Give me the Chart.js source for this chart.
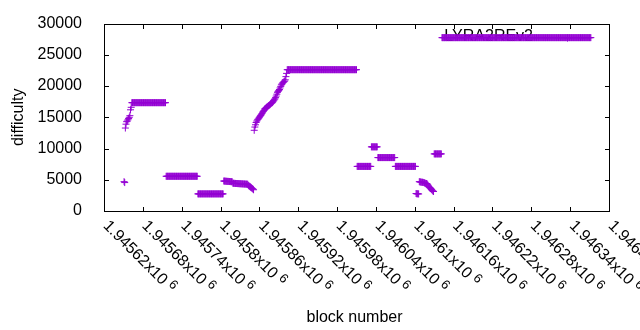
<!DOCTYPE html>
<html>
<head>
<meta charset="utf-8">
<script src="https://cdn.jsdelivr.net/npm/chart.js@4/dist/chart.umd.min.js"></script>
<style>
html,body{margin:0;padding:0;background:#fff;}
#wrap{width:640px;height:330px;position:relative;}
</style>
</head>
<body>
<div id="wrap"><canvas id="c" width="640" height="330"></canvas></div>
<script>
// ---------- text ----------
const seriesName = 'LYRA2REv2';
const xTitle = 'block number';
const yTitle = 'difficulty';

// ---------- axes ----------
const xMin = 1945620, xMax = 1946400, xStep = 60;
const yMin = 0, yMax = 30000, yStep = 5000;
const xTickMantissas = ['1.94562','1.94568','1.94574','1.9458','1.94586','1.94592','1.94598',
                        '1.94604','1.9461','1.94616','1.94622','1.94628','1.94634','1.9464'];
const xTickExponent = '6';
const yTickLabels = ['0','5000','10000','15000','20000','25000','30000'];

// ---------- data (one value per block, each run starts at its block number) ----------
const segmentStartBlocks = [1945651, 1945663, 1945716, 1945765, 1945805, 1945852, 1945903,
                            1946011, 1946033, 1946043, 1946070, 1946102, 1946107, 1946130, 1946142];

const earlyRise = [4700, 4550, 13280, 13900, 14300, 14400, 14600, 14800, 15000, 15260, 16200, 16600];

const plateau1 = [
 17340,17340,17340,17340,17340,17340,17340,17340,17340,17340,
 17340,17340,17340,17340,17340,17340,17340,17340,17340,17340,
 17340,17340,17340,17340,17340,17340,17340,17340,17340,17340,
 17340,17340,17340,17340,17340,17340,17340,17340,17340,17340,
 17340,17340,17340,17340,17340,17340,17340,17340,17340,17340,
 17340,17340,17340];

const plateau2 = [
 5560,5560,5560,5560,5560,5560,5560,5560,5560,5560,
 5560,5560,5560,5560,5560,5560,5560,5560,5560,5560,
 5560,5560,5560,5560,5560,5560,5560,5560,5560,5560,
 5560,5560,5560,5560,5560,5560,5560,5560,5560,5560,
 5560,5560,5560,5560,5560,5560,5560,5560,5560];

const plateau3 = [
 2740,2740,2740,2740,2740,2740,2740,2740,2740,2740,
 2740,2740,2740,2740,2740,2740,2740,2740,2740,2740,
 2740,2740,2740,2740,2740,2740,2740,2740,2740,2740,
 2740,2740,2740,2740,2740,2740,2740,2740,2740,2740];

const slideDown = [
 4800,4790,4780,4770,4760,4750,4740,4740,4730,4720,4710,4700,4690,4680,
 4450,4440,4430,4420,4410,4400,4400,4390,4380,4380,4370,4360,4360,4350,4340,4340,4330,4320,4320,4310,4300,4300,4290,4280,
 4100,4000,3950,3850,3750,3700,3600,3500,3400];

const climb = [
 12920,13440,13800,14170,14400,14580,14700,14850,15000,15150,
 15300,15420,15600,15800,15940,16100,16300,16400,16500,16600,
 16650,16750,16850,16900,17000,17100,17200,17300,17350,17500,
 17650,17800,17950,18150,18400,18700,19000,19150,19300,19450,
 19700,19950,20200,20350,20500,20600,20700,20800,21000,21510,
 22030];

const plateau4 = [
 22620,22620,22620,22620,22620,22620,22620,22620,22620,22620,
 22620,22620,22620,22620,22620,22620,22620,22620,22620,22620,
 22620,22620,22620,22620,22620,22620,22620,22620,22620,22620,
 22620,22620,22620,22620,22620,22620,22620,22620,22620,22620,
 22620,22620,22620,22620,22620,22620,22620,22620,22620,22620,
 22620,22620,22620,22620,22620,22620,22620,22620,22620,22620,
 22620,22620,22620,22620,22620,22620,22620,22620,22620,22620,
 22620,22620,22620,22620,22620,22620,22620,22620,22620,22620,
 22620,22620,22620,22620,22620,22620,22620,22620,22620,22620,
 22620,22620,22620,22620,22620,22620,22620,22620,22620,22620,
 22620,22620,22620,22620,22620,22620,22620,22620];

const plateau5 = [
 7140,7140,7140,7140,7140,7140,7140,7140,7140,7140,
 7140,7140,7140,7140,7140,7140,7140,7140,7140,7140,
 7140,7140];

const plateau6 = [10270,10270,10270,10270,10270,10270,10270,10270,10270,10270];

const plateau7 = [
 8550,8550,8550,8550,8550,8550,8550,8550,8550,8550,
 8550,8550,8550,8550,8550,8550,8550,8550,8550,8550,
 8550,8550,8550,8550,8550,8550,8550];

const plateau8 = [
 7140,7140,7140,7140,7140,7140,7140,7140,7140,7140,
 7140,7140,7140,7140,7140,7140,7140,7140,7140,7140,
 7140,7140,7140,7140,7140,7140,7140,7140,7140,7140,
 7140,7140];

const dip = [2800, 2760, 2740, 2780, 2720];

const slideDown2 = [4700,4650,4650,4620,4600,4600,4580,4550,4500,4450,4420,4400,
                    4350,4200,4000,3850,3750,3650,3550,3450,3300,3200,3120];

const plateau9 = [9140,9140,9140,9140,9140,9140,9140,9140,9140,9140,9140,9140];

const plateau10 = [
 27750,27750,27750,27750,27750,27750,27750,27750,27750,27750,
 27750,27750,27750,27750,27750,27750,27750,27750,27750,27750,
 27750,27750,27750,27750,27750,27750,27750,27750,27750,27750,
 27750,27750,27750,27750,27750,27750,27750,27750,27750,27750,
 27750,27750,27750,27750,27750,27750,27750,27750,27750,27750,
 27750,27750,27750,27750,27750,27750,27750,27750,27750,27750,
 27750,27750,27750,27750,27750,27750,27750,27750,27750,27750,
 27750,27750,27750,27750,27750,27750,27750,27750,27750,27750,
 27750,27750,27750,27750,27750,27750,27750,27750,27750,27750,
 27750,27750,27750,27750,27750,27750,27750,27750,27750,27750,
 27750,27750,27750,27750,27750,27750,27750,27750,27750,27750,
 27750,27750,27750,27750,27750,27750,27750,27750,27750,27750,
 27750,27750,27750,27750,27750,27750,27750,27750,27750,27750,
 27750,27750,27750,27750,27750,27750,27750,27750,27750,27750,
 27750,27750,27750,27750,27750,27750,27750,27750,27750,27750,
 27750,27750,27750,27750,27750,27750,27750,27750,27750,27750,
 27750,27750,27750,27750,27750,27750,27750,27750,27750,27750,
 27750,27750,27750,27750,27750,27750,27750,27750,27750,27750,
 27750,27750,27750,27750,27750,27750,27750,27750,27750,27750,
 27750,27750,27750,27750,27750,27750,27750,27750,27750,27750,
 27750,27750,27750,27750,27750,27750,27750,27750,27750,27750,
 27750,27750,27750,27750,27750,27750,27750,27750,27750,27750,
 27750,27750,27750,27750,27750,27750,27750,27750,27750,27750,
 27750];

// ---------- build the library table ----------
const segments = [earlyRise, plateau1, plateau2, plateau3, slideDown, climb, plateau4,
                  plateau5, plateau6, plateau7, plateau8, dip, slideDown2, plateau9, plateau10];
const points = [];
segments.forEach((vals, s) => vals.forEach((v, i) => points.push({ x: segmentStartBlocks[s] + i, y: v })));

const FONT = "'Liberation Sans', Arial, sans-serif";
const PURPLE = '#9400d3';

const gnuplotFrame = {
  id: 'gnuplotFrame',
  beforeDatasetsDraw(chart) {
    const c = chart.ctx, a = chart.chartArea;
    c.save();
    c.font = '16px ' + FONT;
    c.fillStyle = '#000';
    c.textAlign = 'right';
    c.textBaseline = 'alphabetic';
    c.fillText(seriesName, a.right - 76, a.top + 17.5);
    // key sample
    c.strokeStyle = PURPLE; c.lineWidth = 1;
    const kx = a.right - 41.5, ky = a.top + 14.5;
    c.beginPath();
    c.moveTo(kx - 3.5, ky); c.lineTo(kx + 3.5, ky);
    c.moveTo(kx, ky - 3.5); c.lineTo(kx, ky + 3.5);
    c.stroke();
    c.restore();
  },
  afterDatasetsDraw(chart) {
    const c = chart.ctx, a = chart.chartArea, xs = chart.scales.x, ys = chart.scales.y;
    c.save();
    c.strokeStyle = '#000';
    c.lineWidth = 1;
    const L = Math.round(a.left) + 0.5, R = Math.round(a.right) + 0.5;
    const T = Math.round(a.top) + 0.5, B = Math.round(a.bottom) + 0.5;
    const tl = 4.5;
    c.beginPath();
    ys.ticks.forEach(t => {
      const y = Math.round(ys.getPixelForValue(t.value)) + 0.5;
      c.moveTo(L, y); c.lineTo(L + tl, y);
      c.moveTo(R, y); c.lineTo(R - tl, y);
    });
    xs.ticks.forEach(t => {
      const x = Math.round(xs.getPixelForValue(t.value)) + 0.5;
      c.moveTo(x, B); c.lineTo(x, B - tl);
      c.moveTo(x, T); c.lineTo(x, T + tl);
    });
    c.stroke();
    c.strokeRect(L, T, R - L, B - T);

    // x tick labels, rotated
    c.fillStyle = '#000';
    c.textAlign = 'left';
    c.textBaseline = 'alphabetic';
    xs.ticks.forEach((t, i) => {
      const x = xs.getPixelForValue(t.value);
      const txt = (xTickMantissas[i] || '') + 'x10';
      c.save();
      c.translate(x - 1.5, B + 15);
      c.rotate(Math.PI / 4);
      c.font = '16px ' + FONT;
      c.fillText(txt, 0, 0);
      const w = c.measureText(txt).width;
      c.font = '13px ' + FONT;
      c.fillText(xTickExponent, w + 4, -5);
      c.restore();
    });

    // axis titles
    c.font = '16px ' + FONT;
    c.textAlign = 'center';
    c.textBaseline = 'alphabetic';
    c.fillText(xTitle, (a.left + a.right) / 2 - 2, B + 110);
    c.save();
    c.translate(23, (a.top + a.bottom) / 2);
    c.rotate(-Math.PI / 2);
    c.fillText(yTitle, 0, 0);
    c.restore();
    c.restore();
  }
};

new Chart(document.getElementById('c').getContext('2d'), {
  type: 'scatter',
  data: {
    datasets: [{
      label: seriesName,
      data: points,
      pointStyle: 'cross',
      pointRadius: 3.5,
      pointHoverRadius: 3.5,
      pointBorderWidth: 1,
      borderColor: PURPLE,
      backgroundColor: PURPLE,
      showLine: false
    }]
  },
  options: {
    responsive: false,
    animation: false,
    devicePixelRatio: 1,
    events: [],
    layout: { padding: { top: 19, right: 31, bottom: 119, left: 0 } },
    plugins: { legend: { display: false }, tooltip: { enabled: false } },
    scales: {
      x: { type: 'linear', min: xMin, max: xMax, display: false,
           ticks: { stepSize: xStep, maxTicksLimit: 40, autoSkip: false } },
      y: {
        type: 'linear', min: yMin, max: yMax,
        ticks: {
          stepSize: yStep, padding: 14, color: '#000',
          font: { family: FONT, size: 16 },
          callback: (v, i) => yTickLabels[i]
        },
        grid: { display: false },
        border: { display: false },
        afterFit: (s) => { s.width = 104; }
      }
    }
  },
  plugins: [gnuplotFrame]
});
</script>
</body>
</html>
